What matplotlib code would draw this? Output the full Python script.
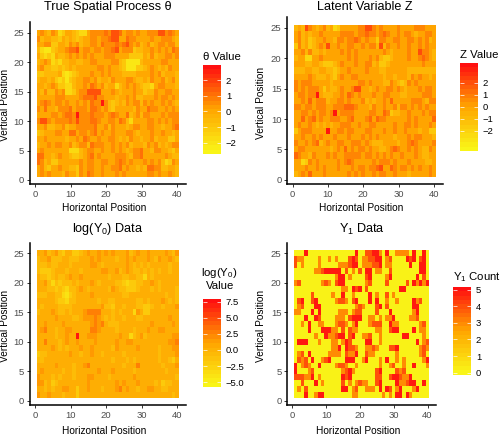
import numpy as np
import matplotlib
matplotlib.use("Agg")
import matplotlib.pyplot as plt
from matplotlib.cm import ScalarMappable
from matplotlib.colors import LinearSegmentedColormap, Normalize

plt.rcParams['font.family'] = ['Liberation Sans', 'DejaVu Sans']
plt.rcParams['mathtext.default'] = 'regular'

W, H = 500, 438

# each grid is stored top row (y=25) first, one digit per cell
THETA_ROWS = [
    "5654652355 4322566667 6887566565 5666886765",
    "6455443545 4345566566 7885576655 5565566654",
    "5566335546 5645566576 6676786564 5645665664",
    "4211345567 7856656656 6785666344 5565656576",
    "5323254456 5656565556 6655553333 5464556656",
    "4565232445 5445566555 5664311114 5555566555",
    "5644334345 4555555665 6554311133 4565454655",
    "3344445212 3455565565 6555444455 5565645554",
    "4554532313 4556656455 4655566544 5465564564",
    "5545653322 4556576564 5524565654 3325665554",
    "5464465622 3566888855 5654555655 3446556655",
    "5555566655 5567778665 5545565644 5556566565",
    "5676566565 5656576696 4345465664 6565565654",
    "6575546667 5666577656 4355555465 5766556565",
    "5555665677 6966676665 6765574564 6655565666",
    "6886566667 6866677655 6657642555 5665656566",
    "5564455645 5666667556 4655545665 5665545567",
    "3455566557 7566567565 5655566545 5565565545",
    "5565555545 5657655655 6654546554 5564555335",
    "4556566556 4566476665 5656564555 4656454566",
    "5655555552 2245665565 5656545667 5546655435",
    "7755456554 3345675655 5566654667 5555556544",
    "7645335555 5565665566 5567656555 6565642365",
    "5643556554 4365665565 5667565545 4776644554",
    "5656555465 5365765565 5565655555 5665655654",
]
THETA_LEVELS = [-2.6, -2.2, -1.7, -1.1, -0.55, 0.0, 0.6, 1.1, 1.7, 2.8]

Z_ROWS = [
    "4548654564 5235555566 8865655556 5555666555",
    "5645455655 5556666566 7665676556 5665455665",
    "5645345565 5466566765 6553665566 5566565645",
    "3645345658 5565566556 5664846556 5565565655",
    "5564644545 5556565655 5555565455 5565586654",
    "4552255655 5555565655 5656433455 5565567654",
    "5554455433 3456555655 6645334555 5555556555",
    "4445544554 4345565555 6555445555 5544444444",
    "5555654445 4356556655 5555545545 5546565545",
    "6566655555 4555555566 5655544654 3465655555",
    "6565666535 4456556885 5456556656 5455565665",
    "5665669544 4556576565 5565566555 4455556665",
    "5565756664 5566565556 4545565755 5556665466",
    "6656656665 5666777655 5465565564 6656565655",
    "5566565665 6956666555 5665576344 5565556566",
    "5575675655 6665567555 6757665555 5565655557",
    "5655654545 4556665565 5665555565 5665655565",
    "3566655559 5566566555 6655565565 5655545533",
    "5565565655 5655565556 5656555545 5565665554",
    "6556567456 5566556665 6544455554 5567655556",
    "5665555555 4565756566 5655445676 5565654465",
    "7655465556 5655666665 6656565655 6555654455",
    "5523656555 5565676555 5565666565 5565555445",
    "5556556565 5565556566 5667855765 6656565565",
    "4565755565 5555565656 5565665565 5545555565",
]
Z_LEVELS = [-3.5, -2.9, -2.3, -1.6, -0.8, 0.0, 0.8, 1.5, 2.2, 3.5]

LOGY0_ROWS = [
    "5564564355 3345655656 5655564565 5655556546",
    "4556444554 4455565655 5545565655 5654655654",
    "4445445554 5555566545 5555565454 5455555455",
    "4333455545 5545555566 5564565445 4545455455",
    "5443454456 5565555555 4555445544 2545555555",
    "5564243444 5455565455 5544323344 5565455555",
    "5554434324 4565455555 4654433345 5545455554",
    "4445544213 4555565555 5555445555 5555554554",
    "5555543324 4555555455 4455555544 5455565454",
    "5455554444 5555555564 4355455544 3345545556",
    "4555654454 5556777755 5454555265 3355555555",
    "5555565555 4456667654 5455455544 5555555655",
    "5565555655 5555567675 4445555555 5565555565",
    "5675545566 5555577655 5545555455 5655665555",
    "5555545565 5955666555 5556552456 4555555566",
    "5575554565 5655556555 5565566555 5555555667",
    "5555654545 5565565555 5465555565 5555455566",
    "3445555556 5545565545 5555455555 5555455556",
    "4455555555 5555555555 5455545455 5555455435",
    "5555565555 4556755555 5555455575 5555545556",
    "5655555455 4555555655 5655555455 5555554555",
    "6555454555 4555665555 4555555655 5555555554",
    "6645345555 5555655555 5565655565 5554534455",
    "5545455665 5355655545 5567565545 5665544555",
    "6556555455 5355555555 5555555555 5555555545",
]
LOGY0_LEVELS = [-5.5, -4.3, -3.3, -2.1, -0.9, 0.3, 1.6, 2.8, 4.0, 7.6]

Y1_ROWS = [
    "0005000000 0000000050 0445530500 3333050050",
    "4330000300 3030004540 3344550340 0005450450",
    "4030000300 0003334550 3334450330 0000500550",
    "0000003345 5555040304 0550330040 0000000550",
    "0000000000 0035503000 0450000350 0000005040",
    "3400000034 3045500000 0340000400 0004053535",
    "0000000000 0000330545 0400000000 0550000000",
    "0000040000 0300500300 0050300403 0000000000",
    "0450045000 0034430450 0050500300 3000053400",
    "0340005500 0000000034 3000450400 0000055000",
    "3300050500 0003330344 0000400050 0000035000",
    "0005005400 0033304555 0033030335 0000334000",
    "0030500330 0034430350 0034440053 3000000340",
    "0000500055 5330404330 0000330045 5000050330",
    "0000003005 3345504500 3340030000 0055000030",
    "0555000300 0330354000 0550030000 0000005034",
    "0000000000 0335054430 0334300044 5000000343",
    "0340500000 3333043350 0433000000 3000000340",
    "0434050034 5000055500 3500030500 3030000035",
    "5034300500 0034430030 0000030034 0030050003",
    "5000340000 0000345300 0000450000 4340000000",
    "4443350300 0000545000 0000440045 5433500000",
    "0040005030 0000403034 3300450000 5334550050",
    "0304000000 0000550340 0333050540 3500035000",
    "0005003550 0000000330 0000003030 5505300000",
]
Y1_LEVELS = [0, 1, 2, 3, 4, 5]

THETA_TICKS = [-2, -1, 0, 1, 2]
Z_TICKS = [-2, -1, 0, 1, 2]
LOGY0_TICKS = [-5.0, -2.5, 0.0, 2.5, 5.0, 7.5]
Y1_TICKS = [0, 1, 2, 3, 4, 5]

heat = LinearSegmentedColormap.from_list("heat", ["#F9F518", "#FFA500", "#FF1010"])


def parse_grid(rows, levels):
    grid = [[levels[int(c)] for c in r.replace(" ", "")] for r in rows]
    return np.array(grid, dtype=float)[::-1]


def px_axes(left, right, top, bottom):
    return fig.add_axes([left / W, 1 - bottom / H, (right - left) / W, (bottom - top) / H])


def draw_panel(grid, box, xlim, ylim, title, title_y, xlabel_y, ylabel_x, vlim):
    ax = px_axes(*box)
    ax.pcolormesh(np.arange(0.5, 41), np.arange(0.5, 26), grid, cmap=heat,
                  vmin=vlim[0], vmax=vlim[1], linewidth=0, rasterized=True)
    ax.set_xlim(xlim)
    ax.set_ylim(ylim)
    ax.set_xticks([0, 10, 20, 30, 40])
    ax.set_yticks([0, 5, 10, 15, 20, 25])
    ax.tick_params(labelsize=6.8, labelcolor="#4D4D4D", color="#333333", length=2.2, width=0.7, pad=2)
    ax.spines['top'].set_visible(False)
    ax.spines['right'].set_visible(False)
    ax.spines['left'].set_linewidth(1.1)
    ax.spines['bottom'].set_linewidth(1.1)
    cx = (box[0] + box[1]) / 2
    cy = (box[2] + box[3]) / 2
    fig.text(cx / W, 1 - title_y / H, title, fontsize=9.1, ha='center', va='center')
    fig.text((cx - 3.6) / W, 1 - xlabel_y / H, "Horizontal Position", fontsize=7.3, ha='center', va='center')
    fig.text(ylabel_x / W, 1 - (cy + 2) / H, "Vertical Position", fontsize=7.3, rotation=90,
             ha='center', va='center')
    return ax


def draw_bar(box, vlim, ticks, labels):
    cax = px_axes(*box)
    sm = ScalarMappable(norm=Normalize(*vlim), cmap=heat.resampled(20))
    cb = fig.colorbar(sm, cax=cax, ticks=ticks)
    cb.outline.set_visible(False)
    cb.ax.set_yticklabels(labels)
    cb.ax.tick_params(length=0, labelsize=6.8, pad=3.5)
    for t in ticks:
        cb.ax.hlines(t, 0, 0.2, color="white", lw=0.5)
        cb.ax.hlines(t, 0.8, 1, color="white", lw=0.5)
    return cb


fig = plt.figure(figsize=(5, 4.38), dpi=100)

theta_lim = (-2.72, 2.96)
z_lim = (-3.67, 3.67)
logy0_lim = (-5.8, 7.9)
y1_lim = (-0.12, 5.18)

draw_panel(parse_grid(THETA_ROWS, THETA_LEVELS), (29.7, 186, 22.4, 184.4), (-1.5, 42.5), (-0.75, 26.75),
           "True Spatial Process θ", 7, 208, 5, theta_lim)
draw_panel(parse_grid(Z_ROWS, Z_LEVELS), (287.3, 442.7, 17.3, 184.4), (-1.5, 42.5), (-0.75, 26.75),
           "Latent Variable Z", 7, 208, 261.5, z_lim)
draw_panel(parse_grid(LOGY0_ROWS, LOGY0_LEVELS), (29.7, 186, 243, 405.4), (-1.5, 42.5), (-0.75, 26.75),
           r"log(Y$_0$) Data", 229, 431, 5, logy0_lim)
draw_panel(parse_grid(Y1_ROWS, Y1_LEVELS), (287.3, 436, 243, 405.4), (-1.5, 42.5), (-0.75, 26.75),
           r"Y$_1$ Data", 229, 431, 261.5, y1_lim)

draw_bar((203, 221, 65, 154), theta_lim, THETA_TICKS, ["−2", "−1", "0", "1", "2"])
draw_bar((460, 477.7, 62.7, 151), z_lim, Z_TICKS, ["−2", "−1", "0", "1", "2"])
draw_bar((203, 221, 299, 387.3), logy0_lim, LOGY0_TICKS, ["−5.0", "−2.5", "0.0", "2.5", "5.0", "7.5"])
draw_bar((453.3, 471, 286.7, 374.7), y1_lim, Y1_TICKS, ["0", "1", "2", "3", "4", "5"])

fig.text(203 / W, 1 - 57 / H, "θ Value", fontsize=8.2, ha='left', va='center')
fig.text(460 / W, 1 - 54.5 / H, "Z Value", fontsize=8.2, ha='left', va='center')
fig.text(219.7 / W, 1 - 278.5 / H, "log(Y$_0$)\nValue", fontsize=8.2, ha='center', va='center', linespacing=1.2)
fig.text(453.3 / W, 1 - 277 / H, "Y$_1$ Count", fontsize=8.2, ha='left', va='center')

fig.savefig("out.png", dpi=100)
